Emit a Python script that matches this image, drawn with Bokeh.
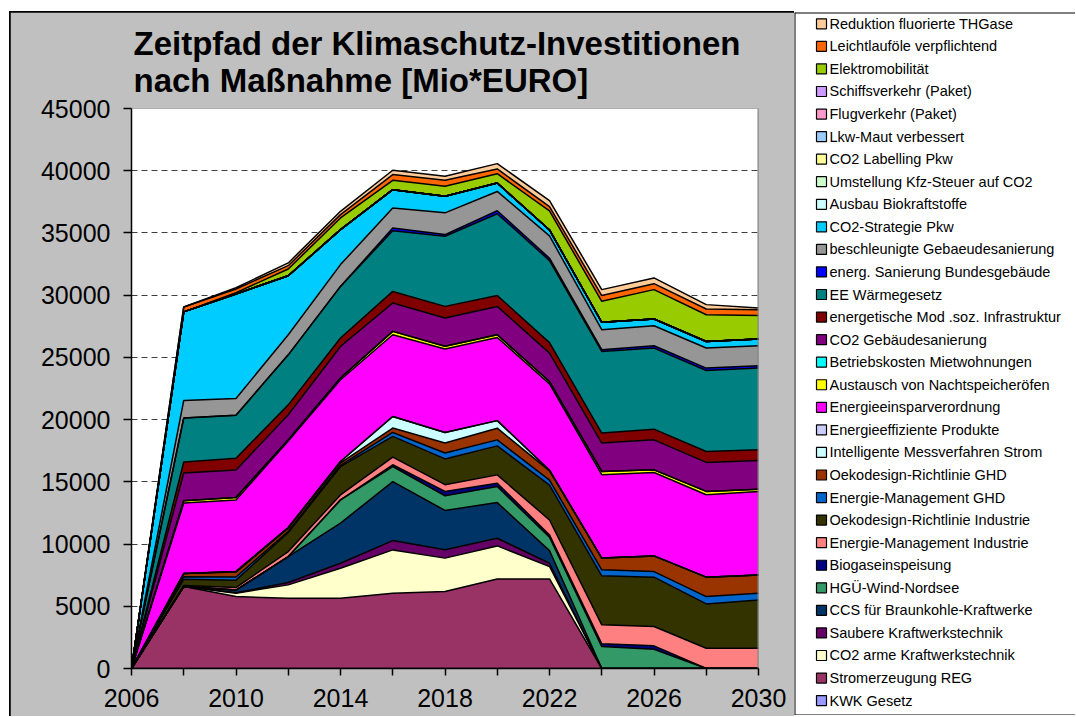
from bokeh.plotting import figure
from bokeh.models import ColumnDataSource, Range1d, FixedTicker, Title, Span
from bokeh.layouts import column
from bokeh.embed import file_html
from bokeh.resources import INLINE
from bokeh.core.properties import value

# ---------------- data ----------------
years = [2006, 2008, 2010, 2012, 2014, 2016, 2018, 2020, 2022, 2024, 2026, 2028, 2030]
x_tick_labels = ["2006", "", "2010", "", "2014", "", "2018", "", "2022", "", "2026", "", "2030"]
y_ticks = [0, 5000, 10000, 15000, 20000, 25000, 30000, 35000, 40000, 45000]

# series in stacking order (bottom -> top), values in Mio EURO
kwk_gesetz = [0, 0, 0, 0, 0, 0, 0, 0, 0, 0, 0, 0, 0]
stromerzeugung_reg = [0, 6585, 5780, 5650, 5650, 6050, 6180, 7200, 7200, 0, 0, 0, 0]
co2_arme_kraftwerkstechnik = [0, 0, 270, 1070, 2410, 3480, 2690, 2650, 1000, 0, 0, 0, 0]
saubere_kraftwerkstechnik = [0, 0, 30, 185, 400, 750, 670, 620, 260, 0, 0, 0, 0]
ccs_braunkohle = [0, 0, 220, 2090, 3220, 4740, 3160, 2860, 1015, 0, 0, 0, 0]
hgue_wind_nordsee = [0, 0, 0, 0, 1870, 1210, 1180, 1290, 1080, 1760, 1550, 0, 0]
biogaseinspeisung = [0, 0, 0, 0, 0, 140, 350, 270, 180, 220, 270, 0, 0]
energie_mgmt_industrie = [0, 80, 200, 400, 400, 620, 540, 670, 1200, 1530, 1550, 1630, 1630]
oekodesign_industrie = [0, 510, 600, 1530, 2280, 1660, 2070, 2330, 2800, 3940, 3970, 3560, 3880]
energie_mgmt_ghd = [0, 190, 250, 100, 100, 320, 480, 480, 400, 480, 450, 590, 540]
oekodesign_ghd = [0, 265, 400, 250, 200, 350, 800, 940, 750, 940, 1260, 1560, 1470]
intelligente_messverfahren = [0, 0, 50, 50, 100, 930, 840, 610, 50, 0, 0, 0, 0]
energieeffiziente_produkte = [0, 0, 0, 0, 0, 0, 0, 0, 0, 0, 0, 0, 0]
energieeinsparverordnung = [0, 5660, 5750, 6950, 6570, 6570, 6720, 6680, 6940, 6700, 6700, 6620, 6700]
austausch_nachtspeicher = [0, 185, 200, 100, 140, 270, 210, 215, 185, 270, 215, 270, 190]
betriebskosten_mietwohnungen = [0, 0, 0, 0, 0, 0, 0, 0, 0, 0, 0, 0, 0]
co2_gebaeudesanierung = [0, 2230, 2200, 2010, 2540, 2280, 2280, 2280, 2280, 2280, 2410, 2330, 2300]
energetische_mod_soz = [0, 885, 950, 800, 675, 930, 930, 880, 850, 800, 860, 880, 860]
ee_waermegesetz = [0, 3540, 3450, 4020, 4150, 4880, 5630, 6570, 6590, 6560, 6510, 6510, 6570]
energ_sanierung_bund = [0, 0, 0, 0, 0, 220, 140, 240, 190, 135, 190, 190, 185]
beschleunigte_sanierung = [0, 1415, 1350, 1610, 1750, 1610, 1745, 1550, 1790, 1610, 1610, 1610, 1610]
co2_strategie_pkw = [0, 7110, 8400, 4745, 2810, 1470, 1335, 675, 480, 590, 540, 530, 540]
ausbau_biokraftstoffe = [0, 0, 0, 0, 0, 0, 0, 0, 0, 0, 0, 0, 0]
umstellung_kfz_steuer = [0, 0, 0, 0, 0, 0, 0, 0, 0, 0, 0, 0, 0]
co2_labelling_pkw = [0, 0, 0, 0, 0, 0, 0, 0, 0, 0, 0, 0, 0]
lkw_maut = [0, 0, 0, 0, 0, 0, 0, 0, 0, 0, 0, 0, 0]
flugverkehr = [0, 0, 0, 0, 0, 0, 0, 0, 0, 0, 0, 0, 0]
schiffsverkehr = [0, 0, 0, 0, 0, 0, 0, 0, 0, 0, 0, 0, 0]
elektromobilitaet = [0, 0, 100, 540, 940, 750, 800, 750, 1530, 1690, 2360, 2150, 1900]
leichtlaufoele = [0, 400, 300, 270, 270, 460, 480, 380, 350, 460, 480, 460, 460]
reduktion_fluorierte = [0, 0, 100, 220, 265, 350, 320, 430, 480, 480, 460, 350, 140]

series_names = [
    "KWK Gesetz", "Stromerzeugung REG", "CO2 arme Kraftwerkstechnik",
    "Saubere Kraftwerkstechnik", "CCS für Braunkohle-Kraftwerke", "HGÜ-Wind-Nordsee",
    "Biogaseinspeisung", "Energie-Management Industrie", "Oekodesign-Richtlinie Industrie",
    "Energie-Management GHD", "Oekodesign-Richtlinie GHD", "Intelligente Messverfahren Strom",
    "Energieeffiziente Produkte", "Energieeinsparverordnung", "Austausch von Nachtspeicheröfen",
    "Betriebskosten Mietwohnungen", "CO2 Gebäudesanierung", "energetische Mod .soz. Infrastruktur",
    "EE Wärmegesetz", "energ. Sanierung Bundesgebäude", "beschleunigte Gebaeudesanierung",
    "CO2-Strategie Pkw", "Ausbau Biokraftstoffe", "Umstellung Kfz-Steuer auf CO2",
    "CO2 Labelling Pkw", "Lkw-Maut verbessert", "Flugverkehr (Paket)", "Schiffsverkehr (Paket)",
    "Elektromobilität", "Leichtlauföle verpflichtend", "Reduktion fluorierte THGase",
]
series_colors = [
    "#9999FF", "#993366", "#FFFFCC", "#660066", "#003366", "#339966", "#000080", "#FF8080",
    "#333300", "#0066CC", "#993300", "#CCFFFF", "#CCCCFF", "#FF00FF", "#FFFF00", "#00FFFF",
    "#800080", "#800000", "#008080", "#0000FF", "#969696", "#00CCFF", "#CCFFFF", "#CCFFCC",
    "#FFFF99", "#99CCFF", "#FF99CC", "#CC99FF", "#99CC00", "#FF6600", "#FFCC99",
]
series_values = [
    kwk_gesetz, stromerzeugung_reg, co2_arme_kraftwerkstechnik, saubere_kraftwerkstechnik,
    ccs_braunkohle, hgue_wind_nordsee, biogaseinspeisung, energie_mgmt_industrie,
    oekodesign_industrie, energie_mgmt_ghd, oekodesign_ghd, intelligente_messverfahren,
    energieeffiziente_produkte, energieeinsparverordnung, austausch_nachtspeicher,
    betriebskosten_mietwohnungen, co2_gebaeudesanierung, energetische_mod_soz, ee_waermegesetz,
    energ_sanierung_bund, beschleunigte_sanierung, co2_strategie_pkw, ausbau_biokraftstoffe,
    umstellung_kfz_steuer, co2_labelling_pkw, lkw_maut, flugverkehr, schiffsverkehr,
    elektromobilitaet, leichtlaufoele, reduktion_fluorierte,
]

title_line1 = "Zeitpfad der Klimaschutz-Investitionen"
title_line2 = "nach Maßnahme [Mio*EURO]"

FONT = "Liberation Sans"

# ---------------- main chart ----------------
keys = ["s%d" % i for i in range(len(series_names))]
data = {"year": years}
for k, v in zip(keys, series_values):
    data[k] = v
source = ColumnDataSource(data)

W, H = 784, 704
FRAME_L, FRAME_W, FRAME_T, FRAME_H = 121, 627, 96, 560
p = figure(width=W, height=H, x_range=Range1d(2006, 2030), y_range=Range1d(0, 45000),
           toolbar_location=None, output_backend="svg", title=None,
           min_border_left=FRAME_L, min_border_right=W - FRAME_L - FRAME_W,
           min_border_top=FRAME_T, min_border_bottom=H - FRAME_T - FRAME_H)
p.border_fill_color = "#C0C0C0"
p.background_fill_color = "white"
p.outline_line_color = None

p.add_layout(Title(text=title_line1 + "\n" + title_line2, align="left", offset=2,
                   standoff=20, text_font=FONT, text_font_size="33px",
                   text_font_style="bold", text_color="black",
                   text_line_height=1.0), "above")

p.varea_stack(stackers=keys, x="year", color=series_colors, source=source)
p.vline_stack(stackers=keys, x="year", color="black", line_width=1.5, source=source)

p.add_layout(Span(location=2030, dimension="height", line_color="#808080", line_width=2))

p.xaxis.ticker = FixedTicker(ticks=years)
p.xaxis.major_label_overrides = {yr: lab for yr, lab in zip(years, x_tick_labels)}
p.yaxis.ticker = FixedTicker(ticks=y_ticks)
for ax in (p.xaxis[0], p.yaxis[0]):
    ax.axis_line_color = "black"
    ax.axis_line_width = 1.5
    ax.major_tick_line_color = "black"
    ax.major_tick_line_width = 1.5
    ax.major_tick_in = 0
    ax.major_tick_out = 8
    ax.minor_tick_in = 0
    ax.minor_tick_out = 0
    ax.major_label_text_font = FONT
    ax.major_label_text_font_size = "25px"
    ax.major_label_text_color = "black"
p.yaxis.major_label_standoff = 13
p.xaxis.major_label_standoff = 13
p.xaxis.major_tick_out = 7

p.xgrid.visible = False
p.ygrid.grid_line_color = "#404040"
p.ygrid.grid_line_dash = "6 4"
p.ygrid.grid_line_width = 1

p.margin = (1, 0, 0, 1)
layout = column(p, margin=(11, 0, 0, 9), styles={"background-color": "black"})

# ---------------- legend panel (separate figure, placed at the right) ----------------
LW, LH = 281, 703
leg = figure(width=LW, height=LH, x_range=Range1d(0, LW), y_range=Range1d(LH, 0),
             toolbar_location=None, output_backend="svg", min_border=0,
             x_axis_type=None, y_axis_type=None, title=None)
leg.grid.visible = False
leg.background_fill_color = "white"
leg.border_fill_color = "white"
leg.outline_line_color = None
for loc, dim in ((0, "height"), (0, "width"), (LH, "width")):
    leg.add_layout(Span(location=loc, dimension=dim, line_color="black", line_width=2))

n = len(series_names)
leg_src = ColumnDataSource(dict(
    name=series_names[::-1],
    color=series_colors[::-1],
    y=[11.3 + i * 22.56 for i in range(n)],
))
leg.rect(x=27, y="y", width=10, height=10, fill_color="color", line_color="black",
         line_width=1.2, source=leg_src)
leg.text(x=35, y="y", text="name", text_font=value(FONT), text_font_size="14.5px",
         text_baseline="middle", text_align="left", text_color="black", source=leg_src)
leg.styles = {"position": "absolute", "left": "794px", "top": "12px"}

open("out.html", "w").write(file_html([layout, leg], INLINE))
